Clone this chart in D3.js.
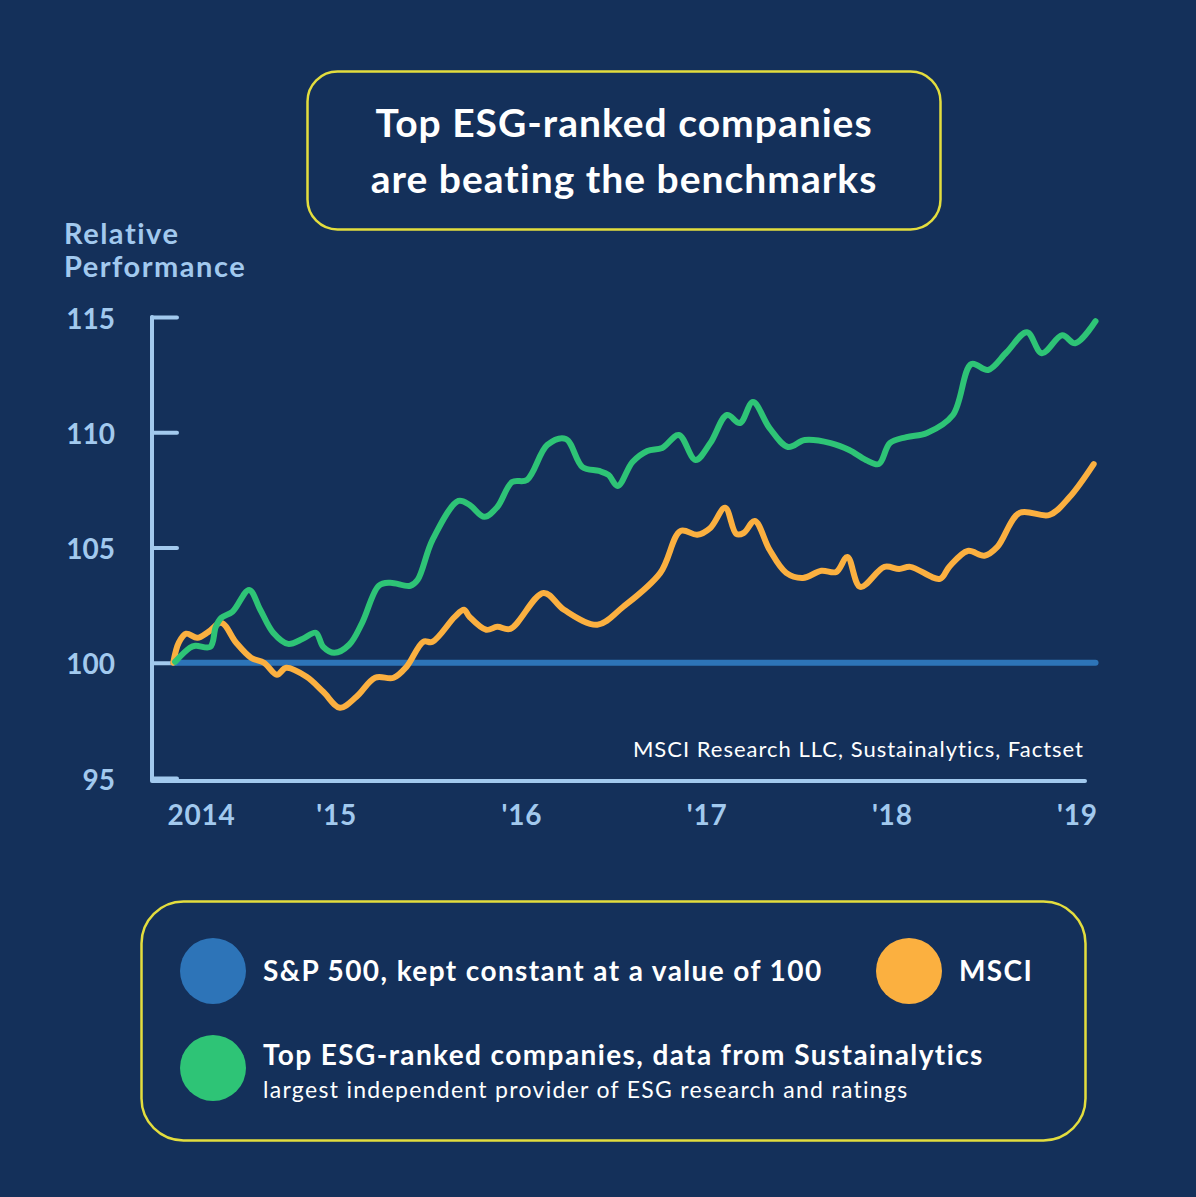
<!DOCTYPE html>
<html>
<head>
<meta charset="utf-8">
<script src="https://cdn.jsdelivr.net/npm/d3@7"></script>
<style>
  html, body { margin: 0; padding: 0; background: #14305a; }
  svg { display: block; }
  text { font-family: Lato, "Open Sans", sans-serif; }
</style>
</head>
<body>
<div id="chart"></div>
<script>
// years as decimal fractions, values relative to S&P 500 = 100
var spYears = [2014.12, 2019.10];
var spValues = [100, 100];

var msciYears = [2014.12, 2014.15, 2014.19, 2014.25, 2014.31, 2014.38, 2014.46, 2014.54, 2014.61, 2014.68,
  2014.73, 2014.84, 2014.93, 2015.02, 2015.11, 2015.21, 2015.31, 2015.38, 2015.47, 2015.52,
  2015.64, 2015.69, 2015.72, 2015.81, 2015.87, 2015.94, 2016.12, 2016.23, 2016.41, 2016.55,
  2016.75, 2016.86, 2016.95, 2017.02, 2017.10, 2017.16, 2017.20, 2017.26, 2017.34, 2017.43,
  2017.52, 2017.62, 2017.70, 2017.76, 2017.83, 2017.96, 2018.04, 2018.10, 2018.26, 2018.31,
  2018.41, 2018.50, 2018.57, 2018.69, 2018.85, 2018.96, 2019.09];
var msciValues = [100.0, 100.87, 101.26, 101.08, 101.34, 101.73, 100.87, 100.22, 100.0, 99.48,
  99.78, 99.39, 98.74, 98.05, 98.53, 99.35, 99.35, 99.83, 100.91, 100.91,
  101.99, 102.30, 101.99, 101.43, 101.56, 101.47, 103.03, 102.30, 101.65, 102.43,
  103.90, 105.72, 105.55, 105.85, 106.72, 105.59, 105.63, 106.15, 104.90, 103.90,
  103.68, 103.99, 103.94, 104.59, 103.29, 104.16, 104.07, 104.16, 103.64, 104.16,
  104.85, 104.64, 105.03, 106.50, 106.41, 107.19, 108.62];

var esgYears = [2014.13, 2014.21, 2014.24, 2014.32, 2014.35, 2014.38, 2014.44, 2014.53, 2014.59, 2014.66,
  2014.74, 2014.82, 2014.89, 2014.93, 2014.99, 2015.07, 2015.14, 2015.23, 2015.29, 2015.40,
  2015.44, 2015.52, 2015.66, 2015.72, 2015.80, 2015.87, 2015.95, 2016.03, 2016.14, 2016.24,
  2016.33, 2016.42, 2016.47, 2016.52, 2016.60, 2016.68, 2016.76, 2016.85, 2016.94, 2017.02,
  2017.11, 2017.18, 2017.25, 2017.34, 2017.44, 2017.53, 2017.67, 2017.77, 2017.86, 2017.93,
  2017.99, 2018.08, 2018.19, 2018.33, 2018.43, 2018.52, 2018.62, 2018.73, 2018.81, 2018.92,
  2018.99, 2019.10];
var esgValues = [100.04, 100.65, 100.74, 100.69, 101.56, 101.95, 102.21, 103.16, 102.30, 101.30,
  100.82, 101.04, 101.30, 100.69, 100.43, 100.78, 101.73, 103.34, 103.47, 103.34,
  103.60, 105.33, 107.02, 106.85, 106.33, 106.76, 107.84, 107.93, 109.45, 109.71,
  108.49, 108.32, 108.15, 107.67, 108.71, 109.19, 109.32, 109.88, 108.80, 109.53,
  110.75, 110.40, 111.31, 110.18, 109.36, 109.66, 109.53, 109.23, 108.80, 108.62,
  109.53, 109.79, 109.97, 110.75, 112.96, 112.70, 113.47, 114.34, 113.43, 114.21,
  113.86, 114.82];

var yTicks = [95, 100, 105, 110, 115];
var xTickYears = [2014.27, 2015, 2016, 2017, 2018, 2019];
var xTickLabels = ["2014", "'15", "'16", "'17", "'18", "'19"];

var titleLines = ["Top ESG-ranked companies", "are beating the benchmarks"];
var yTitleLines = ["Relative", "Performance"];
var sourceText = "MSCI Research LLC, Sustainalytics, Factset";

var colors = { sp: "#2d74b8", msci: "#fbb040", esg: "#2ec476" };

(function () {
    var width = 1196, height = 1197,
        bg = "#14305a", axisColor = "#a2c9ee", boxColor = "#e3dd3e";

    var svg = d3.select("#chart").append("svg")
        .attr("width", width)
        .attr("height", height);

    svg.append("rect").attr("width", width).attr("height", height).attr("fill", bg);

    //Title box
    svg.append("rect")
        .attr("x", 307.5).attr("y", 71.5).attr("width", 633).attr("height", 158)
        .attr("rx", 30).attr("fill", "none")
        .attr("stroke", boxColor).attr("stroke-width", 2.5);

    svg.selectAll("text.title").data(titleLines).enter().append("text")
        .attr("class", "title")
        .attr("x", 624).attr("y", function (d, i) { return 137 + i * 56; })
        .attr("text-anchor", "middle")
        .attr("fill", "#ffffff").attr("font-size", 39).attr("font-weight", 700)
        .attr("letter-spacing", 1)
        .text(function (d) { return d; });

    //Y axis title
    svg.selectAll("text.ytitle").data(yTitleLines).enter().append("text")
        .attr("class", "ytitle")
        .attr("x", 64).attr("y", function (d, i) { return 244 + i * 33; })
        .attr("fill", axisColor).attr("font-size", 29).attr("font-weight", 700)
        .attr("letter-spacing", 1.5)
        .text(function (d) { return d; });

    //Scales
    var x = d3.scaleLinear().domain([2014, 2019]).range([151, 1077]);
    var y = d3.scaleLinear().domain([95, 115]).range([778, 317]);

    //Y axis - ticks drawn to the inside
    var yAxis = svg.append("g")
        .attr("transform", "translate(152,0)")
        .call(d3.axisLeft(y).tickValues(yTicks).tickSize(-25).tickSizeOuter(0).tickPadding(37));
    yAxis.select(".domain").remove();
    yAxis.selectAll(".tick line")
        .attr("stroke", axisColor).attr("stroke-width", 4).attr("stroke-linecap", "round");
    yAxis.selectAll(".tick text")
        .attr("fill", axisColor).attr("font-size", 28).attr("font-weight", 700)
        .attr("font-family", "Lato, sans-serif").attr("dy", "0.4em");

    //Axis lines (L shape)
    svg.append("path")
        .attr("d", "M152," + y(115) + "V781H1085")
        .attr("fill", "none").attr("stroke", axisColor).attr("stroke-width", 4)
        .attr("stroke-linecap", "round").attr("stroke-linejoin", "round");

    //X axis labels
    var xAxis = svg.append("g")
        .attr("transform", "translate(0,781)")
        .call(d3.axisBottom(x).tickValues(xTickYears).tickSize(0).tickPadding(24)
            .tickFormat(function (d, i) { return xTickLabels[i]; }));
    xAxis.select(".domain").remove();
    xAxis.selectAll(".tick text")
        .attr("fill", axisColor).attr("font-size", 28).attr("font-weight", 700)
        .attr("font-family", "Lato, sans-serif").attr("letter-spacing", 0.8);

    //Source
    svg.append("text")
        .attr("x", 1084).attr("y", 757).attr("text-anchor", "end")
        .attr("fill", "#ffffff").attr("font-size", 22).attr("letter-spacing", 1)
        .text(sourceText);

    //Lines
    var line = d3.line()
        .x(function (d) { return x(d[0]); })
        .y(function (d) { return y(d[1]); })
        .curve(d3.curveCatmullRom.alpha(0.5));

    var series = [
        { key: "sp", data: d3.zip(spYears, spValues) },
        { key: "msci", data: d3.zip(msciYears, msciValues) },
        { key: "esg", data: d3.zip(esgYears, esgValues) }
    ];

    svg.selectAll("path.series").data(series).enter().append("path")
        .attr("class", "series")
        .attr("d", function (d) { return line(d.data); })
        .attr("fill", "none")
        .attr("stroke", function (d) { return colors[d.key]; })
        .attr("stroke-width", 6)
        .attr("stroke-linecap", "round")
        .attr("stroke-linejoin", "round");

    //Legend box
    svg.append("rect")
        .attr("x", 141.5).attr("y", 901.5).attr("width", 944).attr("height", 239)
        .attr("rx", 42).attr("fill", "none")
        .attr("stroke", boxColor).attr("stroke-width", 2.5);

    var legend = [
        { key: "sp", cx: 213, cy: 971, label: "S&P 500, kept constant at a value of 100", sub: null },
        { key: "msci", cx: 909, cy: 971, label: "MSCI", sub: null },
        { key: "esg", cx: 213, cy: 1068, label: "Top ESG-ranked companies, data from Sustainalytics",
          sub: "largest independent provider of ESG research and ratings" }
    ];

    var items = svg.selectAll("g.legend").data(legend).enter().append("g").attr("class", "legend");
    items.append("circle")
        .attr("cx", function (d) { return d.cx; })
        .attr("cy", function (d) { return d.cy; })
        .attr("r", 33)
        .attr("fill", function (d) { return colors[d.key]; });
    items.append("text")
        .attr("x", function (d) { return d.cx + 50; })
        .attr("y", function (d) { return d.sub ? d.cy - 3 : d.cy + 10; })
        .attr("fill", "#ffffff").attr("font-size", 28).attr("font-weight", 700)
        .attr("letter-spacing", 1.4)
        .text(function (d) { return d.label; });
    items.filter(function (d) { return d.sub; }).append("text")
        .attr("x", function (d) { return d.cx + 50; })
        .attr("y", function (d) { return d.cy + 30; })
        .attr("fill", "#ffffff").attr("font-size", 23).attr("letter-spacing", 1.3)
        .text(function (d) { return d.sub; });
})();
</script>
</body>
</html>
